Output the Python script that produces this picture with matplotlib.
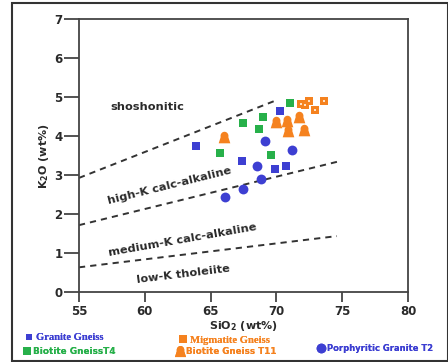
import matplotlib
matplotlib.use("Agg")
import matplotlib.pyplot as plt
import numpy as np
from matplotlib.path import Path
from matplotlib.lines import Line2D
from matplotlib.patches import Rectangle

### Data ###
granite_sio2 = [63.9, 67.4, 69.9, 70.75, 70.3]
granite_k2o = [3.75, 3.36, 3.16, 3.23, 4.64]

bio_t4_sio2 = [67.5, 69.0, 68.7, 71.0, 65.7, 69.6]
bio_t4_k2o = [4.33, 4.49, 4.18, 4.86, 3.57, 3.52]

migm_sio2 = [71.9, 72.5, 72.2, 72.9, 73.6]
migm_k2o = [4.83, 4.90, 4.80, 4.67, 4.90]

bio_t11_sio2 = [66.0, 70.0, 70.8, 71.7, 70.9, 72.1]
bio_t11_k2o = [3.98, 4.35, 4.40, 4.49, 4.12, 4.15]

porph_sio2 = [69.1, 71.2, 68.5, 68.8, 67.5, 66.1]
porph_k2o = [3.87, 3.65, 3.23, 2.89, 2.65, 2.45]

# boundary lines (SiO2 start/end, K2O start/end)
bound_upper = ([55, 70.0], [2.93, 4.92])
bound_mid = ([55, 74.7], [1.72, 3.35])
bound_low = ([55, 74.6], [0.64, 1.44])

xticks = [55, 60, 65, 70, 75, 80]
yticks = [0, 1, 2, 3, 4, 5, 6, 7]

BLUE = "#3d3fd2"
GREEN = "#27b04a"
ORANGE = "#f5821f"
DARK = "#2a2a2a"

# rounded triangle ("bell") marker for Biotite Gneiss T11
t = np.linspace(np.radians(-15), np.radians(195), 30)
top = np.column_stack([0.58 * np.cos(t), 0.22 + 0.62 * np.sin(t)])
bell = np.vstack([[[0.85, -0.85]], top, [[-0.85, -0.85]], [[0.85, -0.85]]])
bell_marker = Path(bell, closed=True)

fig = plt.figure(figsize=(4.48, 3.62), dpi=100)
ax = fig.add_axes([0.1763, 0.1925, 0.7344, 0.755])

dash = dict(color="#333333", lw=1.4, ls=(0, (3.2, 2.6)), zorder=2)
ax.plot(*bound_upper, **dash)
ax.plot(*bound_mid, **dash)
ax.plot(*bound_low, **dash)

ax.scatter(granite_sio2, granite_k2o, marker="s", s=26, c=BLUE, lw=0, zorder=4)
ax.scatter(bio_t4_sio2, bio_t4_k2o, marker="s", s=40, c=GREEN, lw=0, zorder=4)
ax.scatter(migm_sio2, migm_k2o, marker="s", s=40, c=ORANGE, lw=0, zorder=4)
ax.scatter(migm_sio2, migm_k2o, marker="s", s=4, c="#fde2c8", lw=0, zorder=5)
ax.scatter(bio_t11_sio2, bio_t11_k2o, marker=bell_marker, s=70, c=ORANGE, lw=0, zorder=4)
ax.scatter(porph_sio2, porph_k2o, marker="o", s=50, c=BLUE, lw=0, zorder=4)

lab = dict(color=DARK, fontsize=8.2, fontweight="bold", ha="center", va="center")
ax.text(60.2, 4.75, "shoshonitic", **lab)
ax.text(61.9, 2.74, "high-K calc-alkaline", rotation=14, **lab)
ax.text(62.9, 1.35, "medium-K calc-alkaline", rotation=10, **lab)
ax.text(62.9, 0.45, "low-K tholeiite", rotation=7, **lab)

ax.set_xlim(55, 80)
ax.set_ylim(0, 7)
ax.set_xticks(xticks)
ax.set_yticks(yticks)
for sp in ax.spines.values():
    sp.set_color("#444444")
    sp.set_linewidth(1.3)
ax.tick_params(axis="y", length=11, width=1.3, color="#444444", pad=1, labelsize=8.5)
ax.tick_params(axis="x", length=7, width=1.3, color="#444444", pad=2, labelsize=8.5)
for lbl in ax.get_xticklabels() + ax.get_yticklabels():
    lbl.set_fontweight("bold")
    lbl.set_color(DARK)
ax.set_xlabel("SiO$_\\mathbf{2}$ (wt%)", fontsize=8, fontweight="bold", color=DARK, labelpad=1)
ax.set_ylabel("K$_\\mathbf{2}$O (wt%)", fontsize=8, fontweight="bold", color=DARK, labelpad=2)

# legend entries placed below the plot
def add_entry(x, y, marker, ms, color, text, family, size):
    h = Line2D([], [], ls="none", marker=marker, ms=ms, mfc=color, mec=color, mew=0)
    leg = fig.legend([h], [text], loc="center left", bbox_to_anchor=(x, y),
                     frameon=False, handlelength=0.8, handletextpad=0.3,
                     borderpad=0, borderaxespad=0,
                     prop=dict(family=family, weight="bold", size=size))
    for tx in leg.get_texts():
        tx.set_color(color)
    fig.add_artist(leg)

add_entry(0.055, 1 - 337.5 / 362, "s", 4.2, BLUE, "Granite Gneiss", "Liberation Serif", 7.6)
add_entry(0.052, 1 - 351.5 / 362, "s", 6.0, GREEN, "Biotite GneissT4", "DejaVu Sans", 6.4)
add_entry(0.398, 1 - 340.0 / 362, "s", 6.0, ORANGE, "Migmatite Gneiss", "Liberation Serif", 7.7)
add_entry(0.394, 1 - 351.5 / 362, bell_marker, 8.0, ORANGE, "Biotite Gneiss T11", "DejaVu Sans", 6.3)
add_entry(0.709, 1 - 348.3 / 362, "o", 7.0, BLUE, "Porphyritic Granite T2", "DejaVu Sans", 6.0)

fig.add_artist(Rectangle((12 / 448, 1 / 362), 436 / 448, 358 / 362, transform=fig.transFigure,
                         fill=False, ec="#333333", lw=1.5))

fig.savefig("out.png", dpi=100)
